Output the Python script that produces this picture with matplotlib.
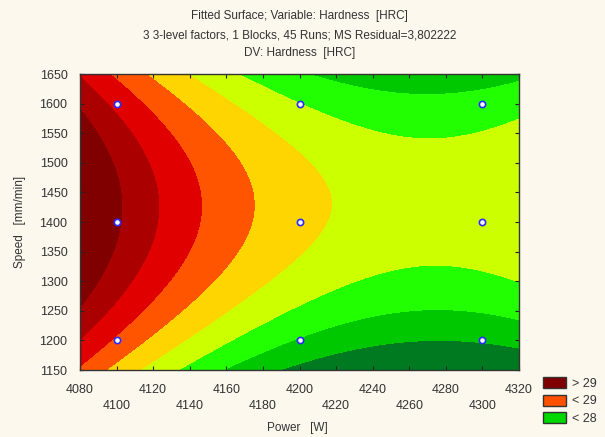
import numpy as np
import matplotlib.pyplot as plt
from matplotlib.patches import Patch

plt.rcParams['font.family'] = ['Liberation Sans', 'DejaVu Sans']

# Fitted quadratic surface in coded units: x = (Power-4200)/100, y = (Speed-1400)/200
b0 = 25.306
b_power = -2.27
b_speed = 0.55
b_power2 = 1.55
b_speed2 = -1.85
b_power_speed = 0.10

# design points (3-level factors)
design_power = [4100, 4200, 4300]
design_speed = [1200, 1400, 1600]

levels = [0, 22, 23, 24, 25, 26, 27, 28, 29, 60]
band_colors = ['#007a20', '#00c800', '#22ff00', '#ccff00', '#ffd500',
               '#ff5500', '#e00000', '#aa0000', '#800000']

legend_labels = ['> 29', '< 29', '< 28']
legend_colors = ['#800000', '#ff5000', '#00d800']

x_ticks = list(range(4080, 4321, 20))
y_ticks = list(range(1150, 1651, 50))

bg = '#fdf8ee'
txt = '#333333'

P = np.linspace(4080, 4320, 400)
S = np.linspace(1150, 1650, 400)
PP, SS = np.meshgrid(P, S)
xc = (PP - 4200) / 100
yc = (SS - 1400) / 200
H = (b0 + b_power * xc + b_speed * yc + b_power2 * xc**2
     + b_speed2 * yc**2 + b_power_speed * xc * yc)

fig = plt.figure(figsize=(6.05, 4.37), dpi=100, facecolor=bg)
ax = fig.add_axes([80 / 605, 1 - 370 / 437, 439 / 605, 296 / 437])

ax.contourf(PP, SS, H, levels=levels, colors=band_colors)

dp, ds = np.meshgrid(design_power, design_speed)
ax.plot(dp.ravel(), ds.ravel(), 'o', ms=4.5, mfc='white', mec='#2b2bff', mew=1.2, ls='none')

ax.set_xlim(4080, 4320)
ax.set_ylim(1150, 1650)
ax.set_xticks(x_ticks)
# staggered labels: every other tick drops to a second row
ax.set_xticklabels([str(v) if i % 2 == 0 else '\n' + str(v) for i, v in enumerate(x_ticks)],
                   linespacing=1.5)
ax.set_yticks(y_ticks)
ax.tick_params(direction='in', top=True, right=True, length=3, width=0.8,
               labelsize=9, colors='#222222', labelcolor=txt)
ax.tick_params(axis='x', pad=10)
ax.tick_params(axis='y', pad=9)
for sp in ax.spines.values():
    sp.set_color('#333333')
    sp.set_linewidth(1.0)

fig.text(297 / 605, 1 - 428 / 437, 'Power   [W]', ha='center', va='center',
         fontsize=8.5, color=txt)
ax.set_ylabel('Speed   [mm/min]', fontsize=8.5, color=txt, labelpad=10)

fig.text(0.495, 1 - 16 / 437, 'Fitted Surface; Variable: Hardness  [HRC]',
         ha='center', va='center', fontsize=8.5, color=txt)
fig.text(0.495, 1 - 35 / 437, '3 3-level factors, 1 Blocks, 45 Runs; MS Residual=3,802222',
         ha='center', va='center', fontsize=8.5, color=txt)
fig.text(0.495, 1 - 53 / 437, 'DV: Hardness  [HRC]',
         ha='center', va='center', fontsize=8.5, color=txt)

handles = [Patch(facecolor=c, edgecolor='#333333', linewidth=1) for c in legend_colors]
fig.legend(handles, legend_labels, loc='upper left', bbox_to_anchor=(532 / 605, 1 - 366 / 437),
           frameon=False, fontsize=9, handlelength=1.8, handleheight=1.0,
           labelspacing=0.35, handletextpad=0.5, labelcolor=txt)

fig.savefig('out.png', dpi=100, facecolor=bg)
